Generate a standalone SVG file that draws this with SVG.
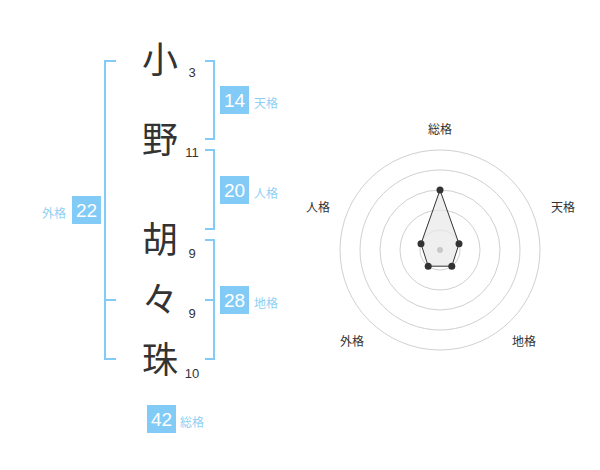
<svg xmlns="http://www.w3.org/2000/svg" width="600" height="470" viewBox="0 0 600 470">
<defs>
<style>
.br{fill:none;stroke:#82cbf7;stroke-width:2}
.ch{font-family:"Noto Sans CJK JP","Noto Sans CJK SC",sans-serif;font-size:36px;fill:#333;text-anchor:middle}
.st{font-family:"Liberation Sans",Arial,sans-serif;font-size:13px;fill:#333;text-anchor:middle}
.bx{fill:#82cbf7}
.bn{font-family:"Liberation Sans",Arial,sans-serif;font-size:19px;fill:#fff;text-anchor:middle}
.bl{font-family:"Noto Sans CJK JP",sans-serif;font-size:12px;fill:#8fcff5}
.rl{font-family:"Noto Sans CJK JP",sans-serif;font-size:12px;fill:#333;text-anchor:middle}
.ring{fill:none;stroke:#d0d0d0;stroke-width:1}
.pt{fill:#333}
</style>
</defs>
<g id="connectors">
<polyline class="br" points="116,61 105,61 105,359 116,359"/>
<line class="br" x1="105" y1="300" x2="116" y2="300"/>
<polyline class="br" points="205,61 214,61 214,139 205,139"/>
<polyline class="br" points="205,150 214,150 214,229 205,229"/>
<polyline class="br" points="205,240 214,240 214,359 205,359"/>
<line class="br" x1="205" y1="300" x2="214" y2="300"/>
</g>
<g id="char1"><text class="ch" x="160" y="73">小</text><text class="st" x="192" y="77">3</text></g>
<g id="char2"><text class="ch" x="160" y="153">野</text><text class="st" x="192" y="157">11</text></g>
<g id="char3"><text class="ch" x="160" y="253">胡</text><text class="st" x="192" y="258">9</text></g>
<g id="char4"><text class="ch" x="160" y="313">々</text><text class="st" x="192" y="318">9</text></g>
<g id="char5"><text class="ch" x="160" y="373">珠</text><text class="st" x="192" y="378">10</text></g>
<g id="tenkaku"><rect class="bx" x="220" y="86" width="29" height="28"/><text class="bn" x="234.5" y="107">14</text><text class="bl" x="254" y="108">天格</text></g>
<g id="jinkaku"><rect class="bx" x="220" y="176" width="29" height="28"/><text class="bn" x="234.5" y="197">20</text><text class="bl" x="254" y="198">人格</text></g>
<g id="chikaku"><rect class="bx" x="220" y="286" width="29" height="28"/><text class="bn" x="234.5" y="307">28</text><text class="bl" x="254" y="308">地格</text></g>
<g id="gaikaku"><rect class="bx" x="72" y="196" width="29" height="28"/><text class="bn" x="86.5" y="217">22</text><text class="bl" x="66" y="218" text-anchor="end">外格</text></g>
<g id="soukaku"><rect class="bx" x="147" y="405" width="29" height="28"/><text class="bn" x="161.5" y="426">42</text><text class="bl" x="180" y="427">総格</text></g>
<g id="radar">
<circle class="ring" cx="440" cy="250" r="100"/>
<circle class="ring" cx="440" cy="250" r="80"/>
<circle class="ring" cx="440" cy="250" r="60"/>
<circle class="ring" cx="440" cy="250" r="40"/>
<circle class="ring" cx="440" cy="250" r="20"/>
<polygon points="440,190 459,243.8 451.8,266.2 428.2,266.2 421,243.8" fill="#e8e8e8" fill-opacity="0.7" stroke="#333" stroke-width="1"/>
<circle cx="440" cy="250" r="3" fill="#c8c8c8"/>
<circle class="pt" cx="440" cy="190" r="3.5"/>
<circle class="pt" cx="459" cy="243.8" r="3.5"/>
<circle class="pt" cx="451.8" cy="266.2" r="3.5"/>
<circle class="pt" cx="428.2" cy="266.2" r="3.5"/>
<circle class="pt" cx="421" cy="243.8" r="3.5"/>
<text class="rl" x="440" y="134">総格</text>
<text class="rl" x="563" y="212">天格</text>
<text class="rl" x="524" y="346">地格</text>
<text class="rl" x="352" y="346">外格</text>
<text class="rl" x="318" y="212">人格</text>
</g>
</svg>
